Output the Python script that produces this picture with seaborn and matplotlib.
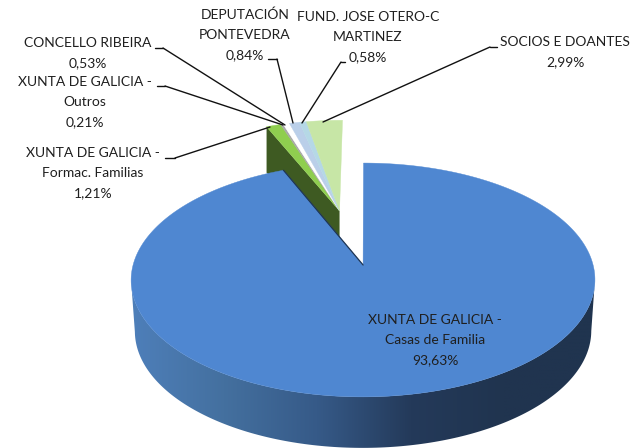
import numpy as np
import matplotlib
matplotlib.use("Agg")
import matplotlib.pyplot as plt
from matplotlib.colors import ListedColormap
from matplotlib.patches import Polygon
import seaborn as sns

sources = ["XUNTA DE GALICIA -\nCasas de Familia", "XUNTA DE GALICIA -\nFormac. Familias",
           "XUNTA DE GALICIA -\nOutros", "CONCELLO RIBEIRA", "DEPUTACIÓN\nPONTEVEDRA",
           "FUND. JOSE OTERO-C\nMARTINEZ", "SOCIOS E DOANTES"]
shares = [93.63, 1.21, 0.21, 0.53, 0.84, 0.58, 2.99]
slice_colors = ["#4F87D1", "#8FCE4F", "#A8A8A8", "#FFFFFF", "#BACFE9", "#B5D8E6", "#C7E6A6"]

sns.set_theme(style="white")
plt.rcParams["font.family"] = ["Lato", "DejaVu Sans"]

fig = plt.figure(figsize=(6.37, 4.48), dpi=100)
ax = fig.add_axes([0, 0, 1, 1])

wedges, _ = ax.pie(shares, startangle=90, counterclock=False)
angles = [(w.theta1, w.theta2) for w in wedges]
for w in wedges:
    w.remove()


def project(u, v):
    # tilted pie with a little perspective
    w = 1 + 0.128 * v
    return 367 + 230 * u / w, 265 - 115 * v / w


def arc(theta1, theta2, center, n=200):
    t = np.radians(np.linspace(theta1, theta2, n))
    return center[0] + np.cos(t), center[1] + np.sin(t)


big_center = (-0.017, 0.0)
small_center = (-0.127, 0.5)

# side of the small exploded slices, only the cut face shows
t1, t2 = angles[1]
edge_angle = np.radians(max(t1, t2))
ou, ov = small_center[0] + np.cos(edge_angle), small_center[1] + np.sin(edge_angle)
apex_x, apex_y = project(*small_center)
outer_x, outer_y = project(ou, ov)
ax.fill([outer_x, apex_x, apex_x, outer_x],
        [outer_y, apex_y, apex_y + 28, outer_y + 46], color="#3E5A22", lw=0, zorder=1)

# top faces of the small slices
for (t1, t2), color in zip(angles[1:], slice_colors[1:]):
    u, v = arc(t1, t2, small_center, 30)
    x, y = project(np.r_[small_center[0], u], np.r_[small_center[1], v])
    ax.fill(x, y, color=color, lw=0.3, zorder=2)

# rim of the large slice, shaded left to right
t1, t2 = angles[0]
u, v = arc(t1, t2, big_center, 361)
x, y = project(u, v)
front = v < -0.128  # widest point of the projected ellipse
x_top, y_top = x[front], y[front]
x_low = 366 + (x_top - 366) * 0.984
y_low = y_top + 51
rim_outline = Polygon(np.c_[np.r_[x_top, x_low[::-1]], np.r_[y_top, y_low[::-1]]],
                      closed=True, transform=ax.transData, fc="none", ec="none")
ax.add_patch(rim_outline)
rim = sns.blend_palette(["#4E7FBA", "#44709F", "#365A88", "#243A5A", "#20344F", "#20344F"], 256)
shade = ax.imshow(np.arange(256)[None, :], cmap=ListedColormap(rim),
                  extent=(130, 598, 448, 270), aspect="auto", zorder=3, interpolation="bilinear")
shade.set_clip_path(rim_outline)

# top face of the large slice
fx, fy = project(np.r_[big_center[0], u], np.r_[big_center[1], v])
ax.fill(fx, fy, color=slice_colors[0], lw=0.3, zorder=4)
ax.plot([fx[0], fx[1]], [fy[0], fy[1]], color="#1F3552", lw=0.9, zorder=5)

ax.set_aspect("auto")
ax.set_xlim(0, 637)
ax.set_ylim(448, 0)
ax.axis("off")

# leader lines: stub next to the label, then a run to the slice
leaders = [
    (155, 163, 48, 285, 125),
    (157, 165, 86, 283, 125),
    (165, 175, 158, 270, 127),
    (268, 277, 59, 293, 123),
    (341, 345, 62, 302, 123),
    (490, 497, 47, 323, 122),
]
for x_left, x_right, stub_y, end_x, end_y in leaders:
    joint = x_left if end_x < x_left else x_right
    ax.plot([x_left, x_right], [stub_y, stub_y], color="#111111", lw=1.0, zorder=6)
    ax.plot([joint, end_x], [stub_y, end_y], color="#111111", lw=1.0, zorder=6)

# labels
label_pos = [(435, 340), (93, 173), (85, 102), (88, 53), (245, 35), (368, 37), (565, 52)]
for name, share, (lx, ly) in zip(sources, shares, label_pos):
    pct = f"{share:.2f}".replace(".", ",") + "%"
    ax.text(lx, ly, f"{name}\n{pct}", ha="center", va="center", fontsize=10.0,
            color="#1F1F1F", linespacing=1.78, zorder=7)

fig.savefig("out.png", dpi=100, facecolor="white")
